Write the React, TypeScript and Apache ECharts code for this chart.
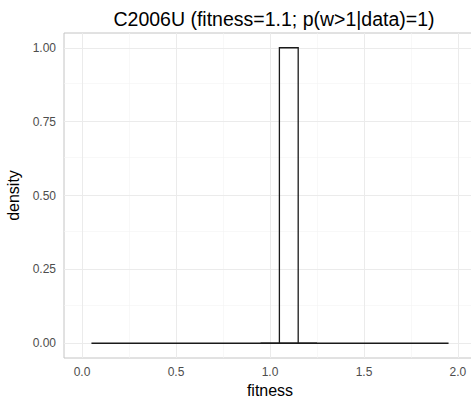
import React, { useEffect, useRef } from "react";
import * as echarts from "echarts";

const titleText = "C2006U (fitness=1.1; p(w>1|data)=1)";
const binStarts = [0.95, 1.05, 1.15];
const binEnds = [1.05, 1.15, 1.25];
const binDensity = [0, 1, 0];
const baselineX = [0.05, 1.95];
const baselineY = [0, 0];
const xTicks = [0, 0.5, 1, 1.5, 2];
const yTicks = [0, 0.25, 0.5, 0.75, 1];
const xMinor = [0.25, 0.75, 1.25, 1.75];
const yMinor = [0.125, 0.375, 0.625, 0.875];

export default function App() {
  const ref = useRef<HTMLDivElement>(null);
  useEffect(() => {
    if (!ref.current) return;
    const chart = echarts.init(ref.current, undefined, { renderer: "svg" });
    const font = "Liberation Sans, Arial, Helvetica, sans-serif";
    const minorStyle = { color: "#f4f4f4", width: 0.6, type: "solid" };
    const majorStyle = { color: "#ebebeb", width: 1, type: "solid" };
    const gridLines = [
      ...xMinor.map((v) => ({ xAxis: v, lineStyle: minorStyle })),
      ...yMinor.map((v) => ({ yAxis: v, lineStyle: minorStyle })),
      ...xTicks.map((v) => ({ xAxis: v, lineStyle: majorStyle })),
      ...yTicks.map((v) => ({ yAxis: v, lineStyle: majorStyle })),
    ];
    chart.setOption({
      animation: false,
      backgroundColor: "#ffffff",
      title: {
        text: titleText,
        left: 269,
        top: 4,
        textAlign: "center",
        textStyle: { fontFamily: font, fontSize: 19.5, fontWeight: "normal", color: "#000" },
      },
      grid: {
        left: 64,
        top: 33,
        right: -5,
        bottom: 41,
        outerBoundsMode: "none",
        containLabel: false,
        show: true,
        borderColor: "#c4c4c4",
        borderWidth: 1,
        backgroundColor: "transparent",
      },
      xAxis: {
        type: "value",
        min: -0.096,
        max: 2.096,
        name: "fitness",
        nameLocation: "middle",
        nameGap: 23,
        nameTextStyle: { fontFamily: font, fontSize: 16, color: "#000" },
        axisLine: { show: false },
        axisTick: { show: true, customValues: xTicks, length: 4, lineStyle: { color: "#333" } },
        axisLabel: {
          customValues: xTicks,
          margin: 8,
          fontFamily: font,
          fontSize: 12,
          color: "#4d4d4d",
          formatter: (v: number) => v.toFixed(1),
        },
        splitLine: { show: false },
      },
      yAxis: {
        type: "value",
        min: -0.05,
        max: 1.05,
        name: "density",
        nameLocation: "middle",
        nameGap: 38,
        nameTextStyle: { fontFamily: font, fontSize: 16, color: "#000" },
        axisLine: { show: false },
        axisTick: { show: true, customValues: yTicks, length: 4, lineStyle: { color: "#333" } },
        axisLabel: {
          customValues: yTicks,
          margin: 8,
          fontFamily: font,
          fontSize: 12,
          color: "#4d4d4d",
          formatter: (v: number) => v.toFixed(2),
        },
        splitLine: { show: false },
      },
      series: [
        {
          type: "line",
          data: baselineX.map((x, i) => [x, baselineY[i]]),
          symbol: "none",
          lineStyle: { color: "#1a1a1a", width: 1.3 },
          z: 3,
          markLine: {
            silent: true,
            symbol: "none",
            label: { show: false },
            data: gridLines,
            z: 1,
          },
        },
        {
          type: "custom",
          data: binStarts.map((s, i) => [s, binEnds[i], binDensity[i]]),
          renderItem: (params: any, api: any) => {
            const p0 = api.coord([api.value(0), 0]);
            const p1 = api.coord([api.value(1), api.value(2)]);
            return {
              type: "rect",
              shape: { x: p0[0], y: p1[1], width: p1[0] - p0[0], height: p0[1] - p1[1] },
              style: { fill: "rgba(255,255,255,0)", stroke: "#1a1a1a", lineWidth: 1.3 },
            };
          },
          z: 4,
        },
      ],
    });
    return () => chart.dispose();
  }, []);
  return <div ref={ref} style={{ width: 471, height: 399, position: "absolute", left: 0, top: 0 }} />;
}
